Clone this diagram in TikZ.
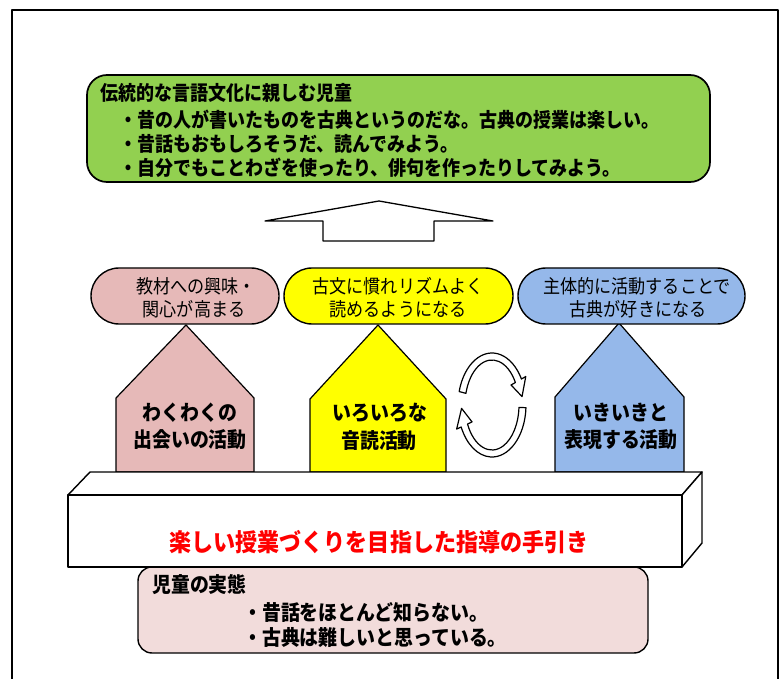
\documentclass[tikz,border=0pt]{standalone}
\usepackage{fontspec}
\setmainfont{Noto Sans CJK JP}[FakeStretch=0.9]
\usetikzlibrary{calc}
\definecolor{gfill}{HTML}{92D050}
\definecolor{pfill}{HTML}{E6B9B8}
\definecolor{yfill}{HTML}{FFFF00}
\definecolor{bfill}{HTML}{95B8EA}
\definecolor{kfill}{HTML}{F2DCDB}
\definecolor{rtext}{HTML}{FF0000}
\begin{document}
\begin{tikzpicture}[x=1pt,y=-1pt,line join=round,
  outline/.style={draw=black,line width=1.4pt},
  pill/.style={outline,rounded corners=28pt},
  bigtxt/.style={font=\fontsize{20}{22}\selectfont\bfseries,inner sep=0pt,anchor=west},
  boxtxt/.style={font=\fontsize{21}{22}\selectfont\bfseries,inner sep=0pt,anchor=west},
  pilltxt/.style={font=\fontsize{19}{20}\selectfont,inner sep=0pt},
  housetxt/.style={font=\fontsize{21}{22}\selectfont\bfseries,inner sep=0pt},
  band/.style={draw=black,line width=1.2pt,fill=white}]
\useasboundingbox (0,0) rectangle (780,679);
\fill[white] (0,0) rectangle (780,679);
% outer frame
\draw[line width=2pt] (12,690) -- (12,10) -- (778,10) -- (778,690);

% top green box
\draw[outline,line width=1.7pt,fill=gfill,rounded corners=20pt] (87,75) rectangle (710,182);
\node[bigtxt] (g0) at (100,93) {伝統的な言語文化に親しむ児童};
\node[bigtxt] (g1) at (119,120) {・昔の人が書いたものを古典というのだな。古典の授業は楽しい。};
\node[bigtxt] (g2) at (119,144) {・昔話もおもしろそうだ、読んでみよう。};
\node[bigtxt] (g3) at (119,168) {・自分でもことわざを使ったり、俳句を作ったりしてみよう。};

% big up arrow
\draw[outline,line width=1.3pt,fill=white] (265,221) -- (379,201) -- (493,221) -- (434,221)
  -- (434,241) -- (323,241) -- (323,221) -- cycle;

% houses
\draw[outline,line width=1.2pt,fill=pfill] (116,472) -- (116,398) -- (186,325) -- (254,398) -- (254,472) -- cycle;
\draw[outline,line width=1.2pt,fill=yfill] (310,472) -- (310,399) -- (378,325) -- (446,399) -- (446,472) -- cycle;
\draw[outline,line width=1.2pt,fill=bfill] (555,472) -- (555,397) -- (619,323) -- (684,397) -- (684,472) -- cycle;
\node[housetxt] (h1a) at (190,413) {わくわくの};
\node[housetxt] (h1b) at (190,440) {出会いの活動};
\node[housetxt] (h2a) at (380,413) {いろいろな};
\node[housetxt] (h2b) at (379,441) {音読活動};
\node[housetxt] (h3a) at (621,413) {いきいきと};
\node[housetxt] (h3b) at (621,440) {表現する活動};

% pills
\draw[pill,fill=pfill] (91,268) rectangle (279,324);
\draw[pill,fill=yfill] (284,268) rectangle (513,324);
\draw[pill,fill=bfill] (518,268) rectangle (745,324);
\node[pilltxt] (p1a) at (196,286) {教材への興味・};
\node[pilltxt] (p1b) at (194,309) {関心が高まる};
\node[pilltxt] (p2a) at (398,286) {古文に慣れリズムよく};
\node[pilltxt] (p2b) at (398,309) {読めるようになる};
\node[pilltxt] (p3a) at (637,286) {主体的に活動することで};
\node[pilltxt] (p3b) at (638,309) {古典が好きになる};

% circular arrows
\coordinate (cc) at (492,405);
\draw[band] ($(cc)+(195:34 and 52)$) arc[start angle=195,end angle=330,x radius=34,y radius=52]
  -- ($(cc)+(330:39 and 57)$) -- ($(cc)+(350:30.5 and 48.5)$) -- ($(cc)+(330:22 and 40)$)
  -- ($(cc)+(330:27 and 45)$) arc[start angle=330,end angle=195,x radius=27,y radius=45] -- cycle;
\draw[band] ($(cc)+(3:34 and 52)$) arc[start angle=3,end angle=155,x radius=34,y radius=52]
  -- ($(cc)+(155:39 and 57)$) -- ($(cc)+(176:30.5 and 48.5)$) -- ($(cc)+(155:22 and 40)$)
  -- ($(cc)+(155:27 and 45)$) arc[start angle=155,end angle=3,x radius=27,y radius=45] -- cycle;

% bottom box
\draw[outline,fill=kfill,rounded corners=14pt] (138,567) rectangle (648,653);
\node[boxtxt] (k0) at (152,585) {児童の実態};
\node[boxtxt] (k1) at (243,613) {・昔話をほとんど知らない。};
\node[boxtxt] (k2) at (243,638) {・古典は難しいと思っている。};

% block
\draw[outline,fill=white] (68,495) -- (90,472) -- (702,472) -- (682,495) -- cycle;
\draw[outline,fill=white] (682,495) -- (702,472) -- (702,543) -- (682,567) -- cycle;
\draw[outline,fill=white] (68,495) rectangle (682,567);
\node[font=\fontsize{24.5}{26}\selectfont\bfseries,text=rtext,inner sep=0pt] (red) at (379,542) {楽しい授業づくりを目指した指導の手引き};
\end{tikzpicture}
\end{document}
